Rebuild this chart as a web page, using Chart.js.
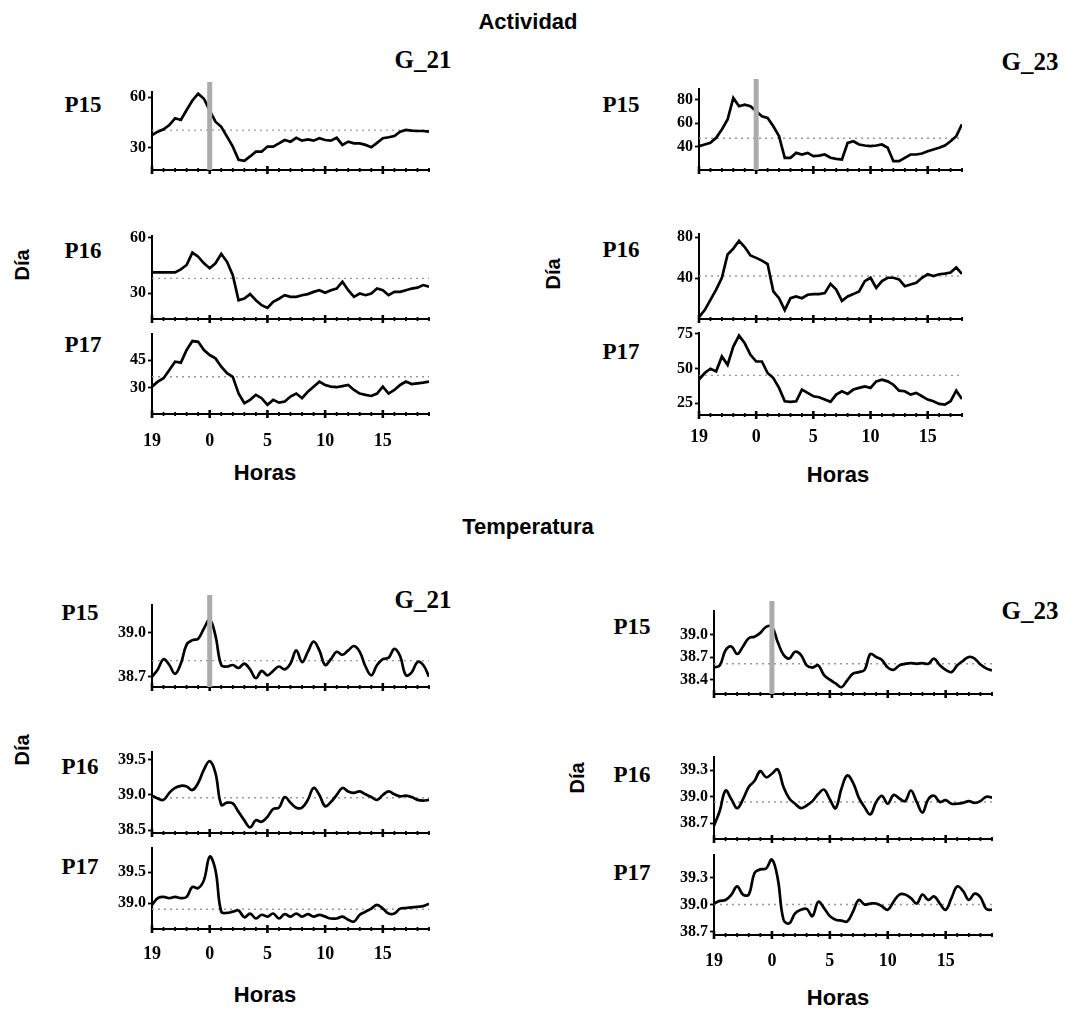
<!DOCTYPE html>
<html>
<head>
<meta charset="utf-8">
<script src="https://cdn.jsdelivr.net/npm/chart.js@4.4.1/dist/chart.umd.min.js"></script>
<style>
  body { margin: 0; background: #fff; }
  #wrap { position: relative; width: 1092px; height: 1016px; overflow: hidden; background: #fff; }
  #wrap canvas { position: absolute; }
  .sans, .serif { position: absolute; color: #000; font-weight: bold; white-space: nowrap; transform: translate(-50%, -50%); }
  .sans { font-family: "Liberation Sans", Arial, sans-serif; }
  .serif { font-family: "Liberation Serif", "Times New Roman", serif; }
  .rot { transform: translate(-50%, -50%) rotate(-90deg); }
</style>
</head>
<body>
<div id="wrap">
  <div class="sans" style="left:528px;top:22px;font-size:22px">Actividad</div>
  <div class="sans" style="left:528px;top:527px;font-size:22px">Temperatura</div>

  <div class="serif" style="left:423px;top:60px;font-size:25px">G_21</div>
  <div class="serif" style="left:1030px;top:62px;font-size:25px">G_23</div>
  <div class="serif" style="left:423px;top:600px;font-size:25px">G_21</div>
  <div class="serif" style="left:1030px;top:611px;font-size:25px">G_23</div>

  <div class="serif" style="left:83px;top:105px;font-size:23px">P15</div>
  <div class="serif" style="left:83px;top:251px;font-size:23px">P16</div>
  <div class="serif" style="left:83px;top:345px;font-size:23px">P17</div>
  <div class="serif" style="left:621px;top:105px;font-size:23px">P15</div>
  <div class="serif" style="left:621px;top:250px;font-size:23px">P16</div>
  <div class="serif" style="left:621px;top:352px;font-size:23px">P17</div>
  <div class="serif" style="left:80px;top:613px;font-size:23px">P15</div>
  <div class="serif" style="left:80px;top:767px;font-size:23px">P16</div>
  <div class="serif" style="left:80px;top:867px;font-size:23px">P17</div>
  <div class="serif" style="left:632px;top:627px;font-size:23px">P15</div>
  <div class="serif" style="left:632px;top:775px;font-size:23px">P16</div>
  <div class="serif" style="left:632px;top:873px;font-size:23px">P17</div>

  <div class="sans rot" style="left:22px;top:265px;font-size:20px">Día</div>
  <div class="sans rot" style="left:553px;top:274px;font-size:20px">Día</div>
  <div class="sans rot" style="left:22px;top:750px;font-size:20px">Día</div>
  <div class="sans rot" style="left:577px;top:778px;font-size:20px">Día</div>

  <div class="sans" style="left:265px;top:473px;font-size:22px">Horas</div>
  <div class="sans" style="left:838px;top:475px;font-size:22px">Horas</div>
  <div class="sans" style="left:265px;top:995px;font-size:22px">Horas</div>
  <div class="sans" style="left:838px;top:998px;font-size:22px">Horas</div>
</div>
<script>
// hours after 19:00, one reading every half hour
const hours = [0, 0.5, 1, 1.5, 2, 2.5, 3, 3.5, 4, 4.5, 5, 5.5, 6, 6.5, 7, 7.5, 8, 8.5, 9, 9.5,
  10, 10.5, 11, 11.5, 12, 12.5, 13, 13.5, 14, 14.5, 15, 15.5, 16, 16.5, 17, 17.5, 18, 18.5, 19, 19.5,
  20, 20.5, 21, 21.5, 22, 22.5, 23, 23.5, 24];
const tickHours = [0, 1, 2, 3, 4, 5, 6, 7, 8, 9, 10, 11, 12, 13, 14, 15, 16, 17, 18, 19, 20, 21, 22, 23, 24];
const majorHours = [0, 5, 10, 15, 20];
const clockLabels = ['19', '0', '5', '10', '15'];

// Actividad
const actG21P15 = [37.6, 39.6, 41, 43.5, 47.5, 46.5, 52.4, 58, 62, 59, 52, 45.5, 42.5, 36.7, 30.8, 23, 22.4, 25, 27.8, 27.8,
  30.8, 30.8, 32.7, 34.7, 33.7, 36, 34.3, 35, 34.3, 35.7, 34.7, 34.3, 36, 31.8, 33.7, 32.7, 32.7, 31.8, 30.4, 33,
  35.7, 36.3, 37, 39.6, 40.6, 40.2, 40, 40, 39.6];
const actG21P16 = [41.3, 41.3, 41.3, 41.3, 41.3, 42.9, 45.3, 52, 49.8, 46.2, 43.5, 46.2, 51.3, 47, 39.8, 26.2, 27.1, 29.5, 26.2, 23.5,
  22, 25.3, 27, 28.9, 28, 28, 28.9, 29.5, 30.7, 31.6, 30.2, 31.6, 32.5, 36.2, 31.6, 28, 29.8, 28.9, 29.8, 32.5,
  31.6, 28.9, 30.7, 30.7, 31.6, 32.5, 33, 34.4, 33.5];
const actG21P17 = [30.7, 33.4, 35.2, 39.6, 44.1, 43.6, 50.4, 55.2, 54.8, 50.4, 47.7, 45.9, 41.4, 37.9, 36, 27, 21.8, 23.6, 26.3, 24.5,
  20.9, 23.6, 22.1, 22.7, 25.4, 27, 24.5, 28, 30.7, 33.4, 31.6, 30.7, 30.4, 31, 31.6, 28.9, 27, 26.3, 25.7, 27,
  30.7, 27, 28.9, 31.6, 33.4, 32.1, 32.5, 32.9, 33.4];
const actG23P15 = [40.3, 41.7, 43.1, 47.4, 54.5, 63, 81.4, 74.3, 75.7, 74.3, 70, 65.8, 64.4, 57.3, 48.8, 30.4, 30.4, 34.6, 33.2, 34.6,
  31.8, 32.3, 33.2, 30.4, 29.5, 28.9, 43.1, 44.5, 41.7, 40.9, 40.3, 40.9, 41.7, 38.9, 27.5, 27.5, 30.4, 33.2, 33.2, 34,
  36, 37.4, 38.9, 40.9, 44.5, 48.8, 59, null, null];
const actG23P16 = [1.7, 8.7, 18.7, 28.7, 40.3, 63, 68.7, 76.3, 70.3, 62, 59.7, 57, 53.7, 27, 20.3, 8.7, 20.3, 22, 20.3, 23.7,
  24.3, 24.3, 25.3, 34.3, 28.7, 17.7, 22, 24.3, 27, 37, 40.3, 30.3, 37, 40.3, 40.3, 38.7, 32, 33.7, 35.3, 40.3,
  43.7, 42, 43.7, 44.3, 45.3, 50.3, 44, null, null];
const actG23P17 = [41.9, 46.7, 49.8, 47.9, 58.6, 52.6, 65.7, 73.6, 68.1, 59.8, 55, 55, 46.7, 43.1, 36, 26.4, 26, 26.4, 34.8, 32.4,
  30, 29.3, 27.6, 26, 31.2, 33.6, 31.7, 34.8, 36, 37.1, 36, 40.7, 41.9, 40.7, 38.3, 34, 33.6, 31.2, 32.4, 30,
  27.6, 26.4, 24.5, 24, 26.4, 34, 28, null, null];

// Temperatura
const tempG21P15 = [38.70, 38.75, 38.82, 38.78, 38.72, 38.79, 38.92, 38.95, 38.96, 39.03, 39.09, 38.98, 38.78, 38.77, 38.78, 38.76, 38.79, 38.75, 38.69, 38.74,
  38.71, 38.74, 38.77, 38.75, 38.79, 38.88, 38.80, 38.87, 38.94, 38.88, 38.78, 38.82, 38.87, 38.85, 38.88, 38.91, 38.87, 38.77, 38.71, 38.78,
  38.82, 38.83, 38.89, 38.84, 38.71, 38.73, 38.80, 38.78, 38.70];
const tempG21P16 = [38.99, 38.95, 38.93, 39.03, 39.10, 39.13, 39.12, 39.07, 39.17, 39.36, 39.48, 39.31, 38.86, 38.89, 38.88, 38.76, 38.64, 38.54, 38.64, 38.62,
  38.69, 38.80, 38.82, 38.97, 38.89, 38.82, 38.82, 38.93, 39.10, 39.00, 38.84, 38.90, 39.00, 39.10, 39.05, 39.03, 39.05, 39.01, 38.97, 38.93,
  39.00, 39.05, 39.01, 38.98, 38.99, 38.97, 38.93, 38.92, 38.93];
const tempG21P17 = [38.97, 39.08, 39.10, 39.08, 39.10, 39.08, 39.10, 39.26, 39.24, 39.37, 39.75, 39.53, 38.86, 38.84, 38.86, 38.88, 38.77, 38.83, 38.75, 38.81,
  38.78, 38.83, 38.75, 38.82, 38.78, 38.83, 38.78, 38.82, 38.78, 38.81, 38.78, 38.75, 38.75, 38.78, 38.73, 38.70, 38.81, 38.86, 38.91, 38.97,
  38.91, 38.83, 38.83, 38.91, 38.92, 38.93, 38.94, 38.95, 38.99];
const tempG23P15 = [38.56, 38.59, 38.79, 38.84, 38.74, 38.84, 38.95, 38.97, 39.02, 39.10, 39.10, 38.90, 38.73, 38.68, 38.77, 38.73, 38.59, 38.56, 38.59, 38.46,
  38.40, 38.35, 38.30, 38.39, 38.48, 38.50, 38.53, 38.74, 38.70, 38.66, 38.56, 38.53, 38.59, 38.61, 38.62, 38.61, 38.62, 38.61, 38.68, 38.59,
  38.53, 38.50, 38.59, 38.65, 38.70, 38.68, 38.60, 38.55, 38.52];
const tempG23P16 = [38.67, 38.84, 39.07, 38.97, 38.87, 38.97, 39.11, 39.18, 39.29, 39.22, 39.26, 39.31, 39.11, 38.98, 38.92, 38.87, 38.90, 38.95, 39.03, 39.08,
  38.97, 38.87, 39.09, 39.24, 39.16, 38.99, 38.88, 38.80, 38.94, 39.01, 38.92, 39.02, 38.98, 38.95, 39.07, 38.94, 38.82, 38.97, 39.01, 38.94,
  38.96, 38.92, 38.92, 38.93, 38.95, 38.93, 38.95, 39.00, 38.99];
const tempG23P17 = [39.01, 39.04, 39.05, 39.11, 39.20, 39.11, 39.11, 39.35, 39.39, 39.40, 39.50, 39.29, 38.83, 38.79, 38.90, 38.94, 38.95, 38.87, 39.03, 38.96,
  38.87, 38.83, 38.82, 38.81, 38.92, 39.05, 39.00, 39.01, 39.01, 38.98, 38.94, 39.03, 39.11, 39.11, 39.07, 39.01, 39.11, 39.05, 39.09, 39.01,
  38.94, 39.07, 39.20, 39.15, 39.05, 39.12, 39.08, 38.95, 38.94];

// y tick values and dotted reference (mean) levels
const yTicksAct = { g21p15: [30, 60], g21p16: [30, 60], g21p17: [30, 45], g23p15: [40, 60, 80], g23p16: [40, 80], g23p17: [25, 50, 75] };
const yTicksTemp = { g21p15: [38.7, 39.0], g21p16: [38.5, 39.0, 39.5], g21p17: [39.0, 39.5], g23p15: [38.4, 38.7, 39.0], g23p16: [38.7, 39.0, 39.3], g23p17: [38.7, 39.0, 39.3] };
const refAct = { g21p15: 40.5, g21p16: 38, g21p17: 36, g23p15: 47, g23p16: 42, g23p17: 45 };
const refTemp = { g21p15: 38.81, g21p16: 38.96, g21p17: 38.9, g23p15: 38.61, g23p16: 38.94, g23p17: 39.0 };

const wrap = document.getElementById('wrap');
const serif = '"Liberation Serif", "Times New Roman", serif';

// hour ticks across the x axis + grey bar at 0 h
const decor = {
  id: 'decor',
  afterDatasetsDraw(chart, args, opts) {
    const { ctx, chartArea: a, scales: { x } } = chart;
    ctx.save();
    ctx.strokeStyle = '#000';
    tickHours.forEach(h => {
      if (h > x.max) return;
      const px = x.getPixelForValue(h);
      const major = majorHours.includes(h);
      ctx.lineWidth = major ? 2.6 : 1.8;
      ctx.beginPath();
      ctx.moveTo(px, a.bottom - (major ? 4 : 2));
      ctx.lineTo(px, a.bottom + (major ? 4 : 2));
      ctx.stroke();
    });
    if (opts.bar) {
      const bx = x.getPixelForValue(5);
      ctx.fillStyle = '#ababab';
      ctx.fillRect(bx - 2.5, a.top - 10, 5, a.bottom - a.top + 10);
    }
    ctx.restore();
  }
};

function panel(p) {
  const padL = 50, padR = 8;
  const padT = p.bar ? 14 : 10;
  const xh = p.labels ? p.gap + 14 : 10;
  const w = p.right - p.left + padL + padR;
  const h = p.bottom - p.top + padT + xh;
  const cv = document.createElement('canvas');
  cv.width = w; cv.height = h;
  cv.style.left = (p.left - padL) + 'px';
  cv.style.top = (p.top - padT) + 'px';
  wrap.appendChild(cv);

  const pts = [];
  hours.forEach((hr, i) => { if (hr <= p.xmax) pts.push({ x: hr, y: p.series[i] }); });

  new Chart(cv, {
    type: 'line',
    data: {
      datasets: [{
        data: pts,
        borderColor: '#000',
        borderWidth: 2.7,
        pointRadius: 0,
        tension: p.smooth ? 0.4 : 0,
        spanGaps: false
      }, {
        data: [{ x: 0, y: p.ref }, { x: p.xmax, y: p.ref }],
        borderColor: '#999',
        borderWidth: 1.4,
        borderDash: [2, 4],
        pointRadius: 0
      }]
    },
    plugins: [decor],
    options: {
      responsive: false,
      animation: false,
      layout: { padding: { top: padT, right: padR, left: 0, bottom: 0 } },
      plugins: { legend: { display: false }, tooltip: { enabled: false }, decor: { bar: p.bar } },
      scales: {
        x: {
          type: 'linear',
          min: 0,
          max: p.xmax,
          afterBuildTicks: s => { s.ticks = majorHours.map(v => ({ value: v })); },
          afterFit: s => { s.height = xh; s.paddingLeft = 0; s.paddingRight = 0; },
          grid: { display: false, drawTicks: false },
          border: { display: true, color: '#000', width: 2 },
          ticks: {
            display: !!p.labels,
            padding: p.labels ? p.gap - 11 : 0,
            maxRotation: 0,
            autoSkip: false,
            color: '#000',
            font: { family: serif, weight: 'bold', size: 18 },
            callback: v => clockLabels[majorHours.indexOf(v)]
          }
        },
        y: {
          min: p.min,
          max: p.max,
          afterBuildTicks: s => { s.ticks = p.yt.map(v => ({ value: v })); },
          afterFit: s => { s.width = padL; s.paddingTop = 0; s.paddingBottom = 0; },
          grid: { drawOnChartArea: false, drawTicks: true, tickLength: 4, tickWidth: 1.8, tickColor: '#000' },
          border: { display: true, color: '#000', width: 2 },
          ticks: {
            padding: 2,
            color: '#000',
            font: { family: serif, weight: 'bold', size: 16 },
            callback: v => v.toFixed(p.dec)
          }
        }
      }
    }
  });
}

// Actividad, G_21
panel({ series: actG21P15, left: 152, right: 429, top: 92, bottom: 170, xmax: 24, min: 17, max: 63, yt: yTicksAct.g21p15, dec: 0, ref: refAct.g21p15, bar: true });
panel({ series: actG21P16, left: 152, right: 429, top: 236, bottom: 319, xmax: 24, min: 16, max: 61, yt: yTicksAct.g21p16, dec: 0, ref: refAct.g21p16 });
panel({ series: actG21P17, left: 152, right: 429, top: 334, bottom: 414, xmax: 24, min: 16, max: 59, yt: yTicksAct.g21p17, dec: 0, ref: refAct.g21p17, labels: true, gap: 28 });
// Actividad, G_23
panel({ series: actG23P15, left: 699, right: 962, top: 89, bottom: 170, xmax: 23, min: 20, max: 89, yt: yTicksAct.g23p15, dec: 0, ref: refAct.g23p15, bar: true });
panel({ series: actG23P16, left: 699, right: 962, top: 234, bottom: 319, xmax: 23, min: 0, max: 83, yt: yTicksAct.g23p16, dec: 0, ref: refAct.g23p16 });
panel({ series: actG23P17, left: 699, right: 962, top: 333, bottom: 415, xmax: 23, min: 16.5, max: 75.5, yt: yTicksAct.g23p17, dec: 0, ref: refAct.g23p17, labels: true, gap: 23 });
// Temperatura, G_21
panel({ series: tempG21P15, left: 152, right: 429, top: 605, bottom: 687, xmax: 24, min: 38.63, max: 39.19, yt: yTicksTemp.g21p15, dec: 1, ref: refTemp.g21p15, bar: true, smooth: true });
panel({ series: tempG21P16, left: 152, right: 429, top: 752, bottom: 833, xmax: 24, min: 38.46, max: 39.61, yt: yTicksTemp.g21p16, dec: 1, ref: refTemp.g21p16, smooth: true });
panel({ series: tempG21P17, left: 152, right: 429, top: 848, bottom: 929, xmax: 24, min: 38.58, max: 39.89, yt: yTicksTemp.g21p17, dec: 1, ref: refTemp.g21p17, smooth: true, labels: true, gap: 26 });
// Temperatura, G_23
panel({ series: tempG23P15, left: 714, right: 992, top: 611, bottom: 694, xmax: 24, min: 38.21, max: 39.31, yt: yTicksTemp.g23p15, dec: 1, ref: refTemp.g23p15, bar: true, smooth: true });
panel({ series: tempG23P16, left: 714, right: 992, top: 757, bottom: 839, xmax: 24, min: 38.52, max: 39.45, yt: yTicksTemp.g23p16, dec: 1, ref: refTemp.g23p16, smooth: true });
panel({ series: tempG23P17, left: 714, right: 992, top: 855, bottom: 935, xmax: 24, min: 38.66, max: 39.55, yt: yTicksTemp.g23p17, dec: 1, ref: refTemp.g23p17, smooth: true, labels: true, gap: 27 });
</script>
</body>
</html>
